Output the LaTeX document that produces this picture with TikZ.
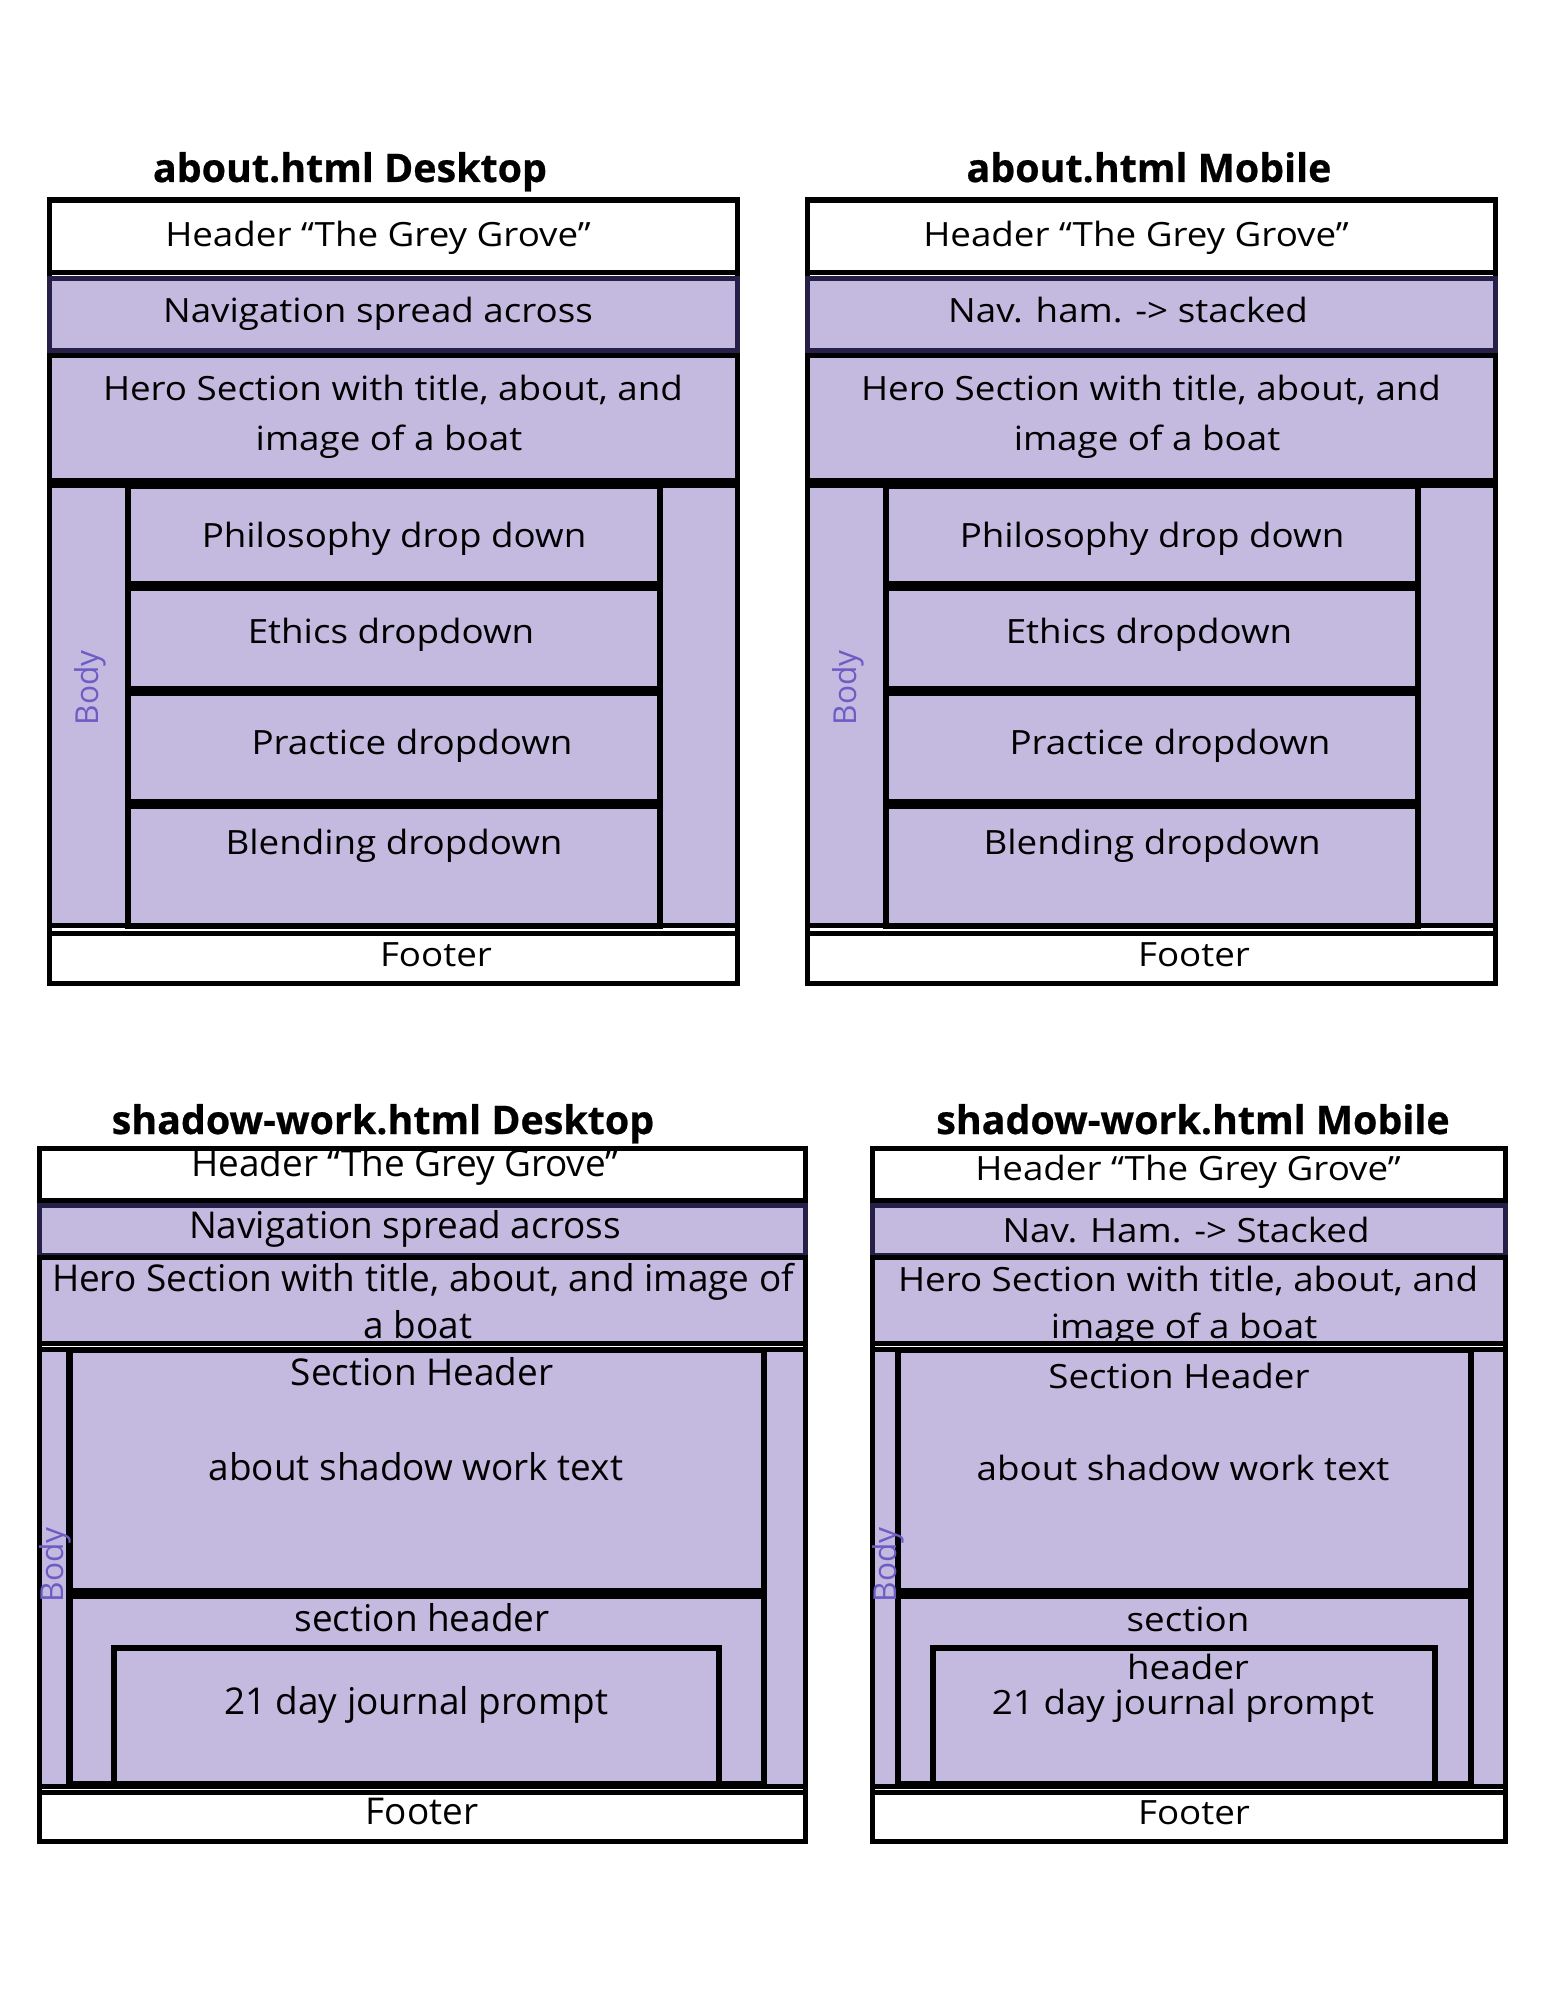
\documentclass[tikz,border=0pt]{standalone}
\usepackage{fontspec}
\setmainfont{Open Sans}
\newfontfamily\wideface[FakeStretch=1.1]{Open Sans}
\newfontfamily\titleface[FakeBold=0.6]{Open Sans}
\definecolor{lav}{RGB}{196,186,224}
\definecolor{navline}{RGB}{38,32,72}
\definecolor{bodytxt}{RGB}{108,92,196}

\begin{document}
\begin{tikzpicture}[x=0.01cm,y=-0.01cm,
    frame/.style={draw=black,line width=0.05cm},
    lavbox/.style={frame,fill=lav},
    inbox/.style={lavbox,line width=0.06cm},
    whitebox/.style={frame,fill=white},
    navbox/.style={fill=lav,draw=navline,line width=0.045cm},
    txt/.style={anchor=base,inner sep=0pt,font=\wideface\fontsize{9.5}{11}\selectfont},
    ctxt/.style={anchor=base,inner sep=0pt,font=\fontsize{10.5}{12}\selectfont},
    ttl/.style={anchor=base,inner sep=0pt,font=\titleface\bfseries\fontsize{11.2}{13}\selectfont},
    bodytag/.style={rotate=90,inner sep=0pt,text=bodytxt,font=\fontsize{9}{10}\selectfont}]

    \useasboundingbox (0,0) rectangle (1545,2000);

    % about.html desktop
    \draw[frame] (49.5,200) rectangle (737.5,983.5);
    \draw[whitebox] (49.5,200) rectangle (737.5,272.5);
    \draw[navbox] (49.5,278.5) rectangle (737.5,350.5);
    \draw[lavbox] (49.5,355.5) rectangle (737.5,480.5);
    \draw[lavbox] (49.5,485.5) rectangle (737.5,925.5);
    \draw[inbox] (127.5,485.5) rectangle (659.5,584);
    \draw[inbox] (127.5,588) rectangle (659.5,689);
    \draw[inbox] (127.5,693) rectangle (659.5,802);
    \draw[inbox] (127.5,806) rectangle (659.5,925.5);
    \draw[whitebox] (49.5,933.5) rectangle (737.5,983.5);

    \node[ttl] (ad-title) at (350,182) {about.html Desktop};
    \node[txt] (ad-head) at (378,246) {Header “The Grey Grove”};
    \node[txt] (ad-nav) at (378,322) {Navigation spread across};
    \node[txt] (ad-hero1) at (393,400) {Hero Section with title, about, and};
    \node[txt] (ad-hero2) at (389,450) {image of a boat};
    \node[txt] (ad-phil) at (394,547) {Philosophy drop down};
    \node[txt] (ad-eth) at (391,643) {Ethics dropdown};
    \node[txt] (ad-prac) at (412,754) {Practice dropdown};
    \node[txt] (ad-blend) at (394,854) {Blending dropdown};
    \node[txt] (ad-foot) at (436,966) {Footer};
    \node[bodytag] (ad-body) at (90,688) {Body};

    % about.html mobile
    \draw[frame] (807.5,200) rectangle (1495.5,983.5);
    \draw[whitebox] (807.5,200) rectangle (1495.5,272.5);
    \draw[navbox] (807.5,278.5) rectangle (1495.5,350.5);
    \draw[lavbox] (807.5,355.5) rectangle (1495.5,480.5);
    \draw[lavbox] (807.5,485.5) rectangle (1495.5,925.5);
    \draw[inbox] (885.5,485.5) rectangle (1417.5,584);
    \draw[inbox] (885.5,588) rectangle (1417.5,689);
    \draw[inbox] (885.5,693) rectangle (1417.5,802);
    \draw[inbox] (885.5,806) rectangle (1417.5,925.5);
    \draw[whitebox] (807.5,933.5) rectangle (1495.5,983.5);

    \node[ttl] (am-title) at (1149,182) {about.html Mobile};
    \node[txt] (am-head) at (1136,246) {Header “The Grey Grove”};
    \node[txt] (am-nav) at (1128,322) {Nav. ham. -> stacked};
    \node[txt] (am-hero1) at (1151,400) {Hero Section with title, about, and};
    \node[txt] (am-hero2) at (1147,450) {image of a boat};
    \node[txt] (am-phil) at (1152,547) {Philosophy drop down};
    \node[txt] (am-eth) at (1149,643) {Ethics dropdown};
    \node[txt] (am-prac) at (1170,754) {Practice dropdown};
    \node[txt] (am-blend) at (1152,854) {Blending dropdown};
    \node[txt] (am-foot) at (1194,966) {Footer};
    \node[bodytag] (am-body) at (848,688) {Body};

    % shadow-work.html desktop
    \draw[frame] (39.5,1148.5) rectangle (805.5,1841);
    \draw[whitebox] (39.5,1148.5) rectangle (805.5,1200);
    \draw[navbox] (39.5,1205.5) rectangle (805.5,1255);
    \draw[lavbox] (39.5,1257.5) rectangle (805.5,1343.5);
    \draw[lavbox] (39.5,1349.5) rectangle (805.5,1786);
    \draw[inbox] (69.5,1349.5) rectangle (763.5,1590.5);
    \draw[inbox] (69.5,1595.5) rectangle (763.5,1783.5);
    \draw[inbox] (114,1647.5) rectangle (718.5,1783.5);
    \draw[whitebox] (39.5,1792) rectangle (805.5,1841);

    \node[ttl] (sd-title) at (383,1134) {shadow-work.html Desktop};
    \node[ctxt] (sd-head) at (405,1176) {Header “The Grey Grove”};
    \node[ctxt] (sd-nav) at (405,1238) {Navigation spread across};
    \node[ctxt] (sd-hero1) at (423,1291) {Hero Section with title, about, and image of};
    \node[ctxt] (sd-hero2) at (418,1338) {a boat};
    \node[ctxt] (sd-sec1) at (422,1385) {Section Header};
    \node[ctxt] (sd-about) at (416,1480) {about shadow work text};
    \node[ctxt] (sd-sec2) at (422,1631) {section header};
    \node[ctxt] (sd-journal) at (416,1714) {21 day journal prompt};
    \node[ctxt] (sd-foot) at (422,1824) {Footer};
    \node[bodytag] (sd-body) at (55,1565) {Body};

    % shadow-work.html mobile
    \draw[frame] (872.5,1148.5) rectangle (1505.5,1841);
    \draw[whitebox] (872.5,1148.5) rectangle (1505.5,1200);
    \draw[navbox] (872.5,1205.5) rectangle (1505.5,1255);
    \draw[lavbox] (872.5,1257.5) rectangle (1505.5,1343.5);
    \draw[lavbox] (872.5,1349.5) rectangle (1505.5,1786);
    \draw[inbox] (897.5,1349.5) rectangle (1470.5,1590.5);
    \draw[inbox] (897.5,1595.5) rectangle (1470.5,1783.5);
    \draw[inbox] (933,1647.5) rectangle (1434.5,1783.5);
    \draw[whitebox] (872.5,1792) rectangle (1505.5,1841);

    \node[ttl] (sm-title) at (1193,1134) {shadow-work.html Mobile};
    \node[txt] (sm-head) at (1188,1180) {Header “The Grey Grove”};
    \node[txt] (sm-nav) at (1186,1242) {Nav. Ham. -> Stacked};
    \node[txt] (sm-hero1) at (1188,1291) {Hero Section with title, about, and};
    \node[txt] (sm-hero2) at (1184,1338) {image of a boat};
    \node[txt] (sm-sec1) at (1179,1388) {Section Header};
    \node[txt] (sm-about) at (1183,1480) {about shadow work text};
    \node[txt] (sm-sec2) at (1188,1631) {section};
    \node[txt] (sm-sec2b) at (1188,1679) {header};
    \node[txt] (sm-journal) at (1183,1714) {21 day journal prompt};
    \node[txt] (sm-foot) at (1194,1824) {Footer};
    \node[bodytag] (sm-body) at (888,1565) {Body};
\end{tikzpicture}
\end{document}
